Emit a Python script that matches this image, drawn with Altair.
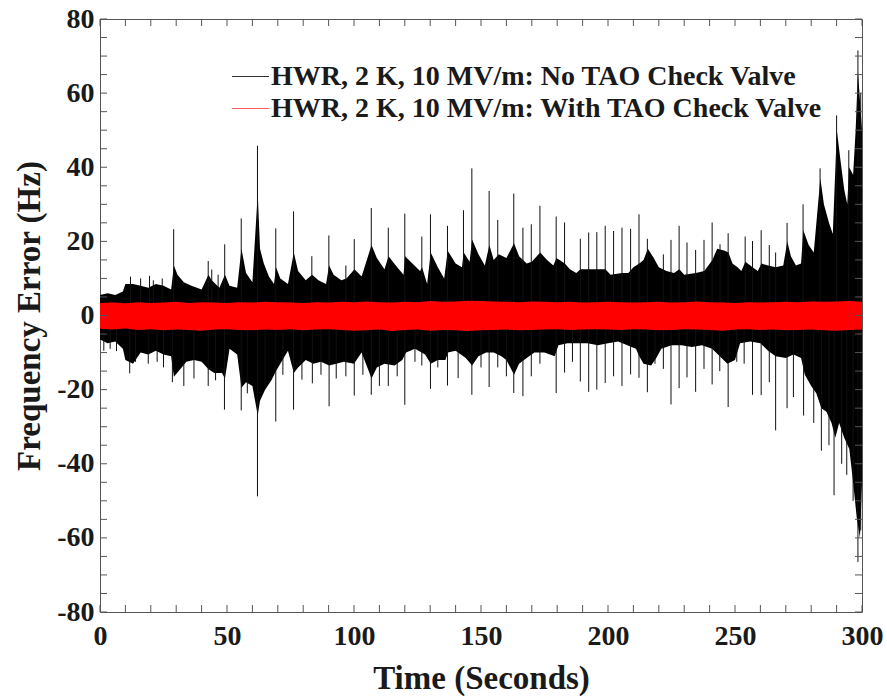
import altair as alt
import pandas as pd

FONT = "Liberation Serif"
TXT = "#1a1a1a"

# ---------------- data ----------------
series_names = ["HWR, 2 K, 10 MV/m: No TAO Check Valve",
                "HWR, 2 K, 10 MV/m: With TAO Check Valve"]

# dense upper envelope of the black (no check valve) trace
up_t = [0, 3, 6, 9, 10, 13, 16, 19, 22, 25, 28, 29.1, 30.5, 33, 36, 40, 42.7, 44, 47, 49.2,
        51, 54, 55.7, 57.5, 60, 62.1, 63, 64.5, 66.5, 68.5, 69.3, 71, 74, 76.3, 78, 81, 83.5,
        86, 89, 90.2, 92, 95, 97, 100.2, 103, 106.9, 109, 112, 113.6, 117, 119.5, 120.1, 123,
        126, 126.8, 128.8, 130.2, 133, 135.5, 136.9, 140, 142.5, 143.2, 145.5, 146.5, 149,
        151.5, 153.3, 155, 157, 160, 163, 165, 168, 170, 173.3, 176, 178.5, 179.7, 183, 185,
        187.5, 189.2, 192.5, 195.7, 199, 201, 205.6, 208, 210, 212.3, 214, 215.7, 218, 220,
        223, 226, 228.1, 230, 234.6, 237.9, 241.1, 243, 246, 247.4, 249, 251, 252.5, 254.1,
        256.9, 259, 260.4, 263, 266, 269, 270.6, 272, 274, 276, 276.9, 279, 281, 283.6, 285,
        287, 288.5, 290.1, 291.5, 293, 294.2, 294.9, 296.5, 297.5, 298.4, 299.2, 300]
up_v = [5.5, 6.0, 5.5, 6.5, 8.5, 8.5, 8.0, 7.5, 8.5, 8.0, 7.0, 13.5, 11.0, 9.0, 8.0, 7.0, 11.0, 9.5, 7.5, 11.0,
        8.0, 7.5, 18.0, 11.5, 9.0, 33.0, 18.0, 14.0, 10.5, 8.5, 13.0, 10.0, 8.5, 17.0, 12.0, 9.5, 11.0,
        9.5, 8.5, 13.5, 11.0, 9.5, 10.0, 12.5, 10.5, 19.0, 15.5, 12.5, 16.0, 13.0, 11.0, 16.0, 14.0,
        12.0, 13.0, 8.5, 17.0, 13.0, 10.0, 17.5, 14.0, 13.0, 17.0, 14.5, 20.5, 16.5,
        13.5, 19.0, 15.0, 16.5, 15.5, 19.5, 16.0, 14.0, 14.5, 17.0, 15.0, 13.5, 15.5, 14.0, 12.5,
        11.5, 12.5, 12.5, 12.5, 12.5, 11.0, 11.5, 11.5, 13.0, 14.0, 15.0, 18.0, 15.5, 13.0,
        12.0, 11.5, 12.5, 11.0, 11.5, 12.0, 15.0, 18.0, 17.5, 17.0, 14.0, 13.0, 12.0, 14.5,
        13.0, 12.0, 14.0, 13.5, 13.0, 13.5, 20.0, 16.0, 13.5, 14.0, 23.0, 19.0, 17.0, 37.0, 30.0,
        25.0, 22.0, 50.0, 42.0, 34.0, 30.0, 40.0, 38.0, 50.0, 66.0, 58.0, 50.0]

# dense lower envelope of the black trace
lo_t = [0, 3, 6, 9, 10, 13, 16, 19, 22, 25, 28, 29.1, 31, 34, 37, 40, 42.7, 45, 48, 49.2,
        51, 54, 55.7, 57.5, 60, 62.1, 63, 65, 67.5, 69.3, 71, 74, 76.3, 78, 81, 84, 87, 90.2,
        93, 96, 100, 103, 106.9, 109, 112, 116, 119, 120.5, 124, 128, 130.2, 133, 136, 137,
        140, 144, 146.5, 149, 152, 155, 158, 160, 163, 165, 168, 171, 175, 179, 180.5, 184,
        188, 192, 196, 200, 204, 207.6, 211, 212.3, 214, 217, 219, 221, 225, 229, 233, 237,
        241, 244, 247, 250, 252, 256, 260, 263, 266, 270, 273, 276, 277.5, 280, 282, 284,
        286, 288, 289.5, 291, 293, 295, 296.5, 298, 299.2, 300]
lo_v = [-6.5, -7.5, -7.0, -9.0, -12.0, -13.0, -10.0, -10.5, -9.5, -10.5, -11.0, -16.5, -15.0, -12.5, -12.0, -12.5, -14.5, -15.5, -15.5, -17.0,
        -9.0, -10.5, -19.5, -18.0, -19.0, -27.0, -23.0, -20.0, -17.5, -15.0, -13.0, -9.5, -15.5, -14.0, -12.0, -13.0, -12.5, -13.5,
        -13.0, -12.5, -13.0, -10.0, -17.0, -14.0, -13.0, -13.5, -12.0, -10.0, -9.0, -10.5, -13.0, -12.0, -12.0, -10.0,
        -9.5, -11.5, -13.5, -11.0, -10.0, -10.0, -11.0, -12.0, -16.0, -13.0, -11.5, -10.0, -10.0, -11.0, -8.0, -7.5,
        -7.5, -7.5, -8.0, -7.5, -7.0, -8.0, -9.0, -11.0, -13.0, -13.5, -11.5, -9.0, -8.0, -8.0, -8.5, -8.0,
        -9.0, -11.0, -13.0, -12.0, -7.5, -7.0, -7.5, -9.5, -11.0, -11.5, -10.5, -11.5, -16.0, -19.0, -21.0, -25.0,
        -26.0, -29.0, -33.0, -29.0, -33.0, -36.0, -45.0, -55.0, -60.0, -45.0]

# isolated upward spikes of the black trace
spike_up_t = [12, 16, 19.5, 21, 24.5, 29.0, 42.6, 44, 46.5, 49.1, 55.6, 62.0, 69.2, 76.2, 83.4, 90.1,
              96.8, 100.1, 106.8, 113.5, 120.0, 126.7, 130.1, 136.8, 143.1, 146.4, 153.2, 156.6,
              162.9, 166.5, 169.8, 173.2, 179.6, 182.9, 189.1, 192.4, 195.6, 198.9, 202.2, 205.5,
              208.9, 212.2, 215.5, 221.8, 224.8, 228.0, 231.1, 234.5, 237.8, 241.0, 244.1, 247.3,
              254.0, 256.9, 260.3, 263.5, 266.0, 270.5, 276.8, 283.5, 290.0, 294.8, 298.4, 299.5]
spike_up_v = [10.5, 10.0, 10.7, 9.5, 10.0, 23.3, 14.7, 12.4, 11.0, 19.2, 26.2, 45.8, 23.5, 28.1, 16.0, 21.6,
              13.5, 20.6, 29.0, 23.7, 27.5, 21.3, 27.3, 24.2, 28.4, 39.7, 33.6, 25.8,
              32.9, 23.7, 24.6, 29.6, 26.7, 25.1, 20.7, 22.4, 22.5, 24.2, 22.8, 23.7,
              23.4, 27.3, 20.7, 16.5, 20.4, 24.2, 19.7, 17.7, 20.4, 25.1, 19.2, 22.2,
              21.3, 20.1, 23.0, 19.0, 17.0, 25.0, 30.0, 39.7, 54.0, 44.6, 71.5, 60.0]

# isolated downward spikes of the black trace
spike_lo_t = [1.5, 4, 6.5, 11.7, 14, 19, 22.5, 25, 28.5, 33, 37, 42.6, 45.5, 49.0, 55.6, 58, 62.0,
              65, 69.2, 72, 76.2, 79.5, 83.6, 87, 90.2, 93, 96.8, 100.1, 103.5, 106.8, 110, 113.5,
              117, 120, 124, 126.7, 130.1, 133, 136.8, 141, 146.4, 150, 153.2, 156.6, 160, 162.9,
              166.5, 169.8, 173.2, 179.6, 182.9, 186, 189.1, 192.4, 195.6, 198.9, 202.2, 205.5,
              208.9, 212.2, 215.5, 218.5, 221.8, 224.8, 228.0, 231.1, 234.5, 237.8, 241.0, 244,
              247.3, 250.7, 253.6, 256.9, 260.3, 263.5, 266.0, 270.5, 273, 277, 281, 284.0, 287,
              289.0, 292, 294, 296.5, 298.4, 299.5]
spike_lo_v = [-9.5, -9.0, -9.6, -15.6, -12.5, -13.0, -12.5, -14.0, -18.0, -19.0, -17.0, -19.0, -17.5, -25.4, -25.6, -21.0, -48.8,
              -19.4, -28.6, -16.0, -25.4, -17.3, -18.3, -16.0, -24.5, -17.0, -16.4, -21.6, -16.0, -21.4, -19.0, -19.0,
              -16.4, -24.1, -12.5, -13.5, -19.8, -14.0, -18.9, -16.9, -21.4, -14.0, -19.3, -14.0, -16.4, -20.9,
              -21.8, -16.4, -13.0, -20.9, -15.4, -12.5, -17.8, -20.6, -20.0, -18.2, -16.4, -19.0,
              -15.9, -16.8, -20.7, -13.0, -14.4, -24.0, -19.6, -16.7, -20.6, -14.4, -18.6, -15.0,
              -24.7, -12.5, -13.0, -21.4, -21.5, -18.0, -31.0, -25.0, -22.0, -27.0, -29.0, -36.5, -35.0,
              -48.5, -40.0, -43.0, -50.0, -66.5, -58.0]

# red trace (with check valve): band edges every 5 s
red_t = list(range(0, 301, 5))
red_up = [3.4, 3.5, 3.3, 3.6, 3.4, 3.5, 3.7, 3.4, 3.6, 3.5, 3.4, 3.6, 3.5, 3.7, 3.6, 3.5, 3.4, 3.6, 3.5, 3.7,
          3.6, 3.8, 3.6, 3.5, 3.7, 3.6, 3.9, 3.7, 3.8, 4.0, 3.9, 3.8, 3.7, 3.6, 3.8, 3.7, 3.6, 3.7, 3.5, 3.6,
          3.7, 3.6, 3.5, 3.6, 3.7, 3.5, 3.6, 3.8, 3.6, 3.5, 3.4, 3.6, 3.5, 3.6, 3.7, 3.6, 3.8, 3.7, 3.8, 3.9, 3.7]
red_lo = [-3.6, -3.8, -3.5, -3.9, -3.7, -4.0, -3.8, -3.9, -4.1, -3.8, -3.7, -3.9, -4.0, -3.8, -3.9, -3.7, -4.0, -3.8, -3.7, -3.9,
          -4.1, -4.0, -3.8, -4.2, -3.9, -3.8, -4.1, -3.9, -4.0, -4.2, -4.0, -3.9, -3.8, -4.0, -3.9, -3.8, -3.7, -3.9, -3.8, -3.7,
          -3.8, -3.9, -3.7, -3.8, -4.0, -3.9, -3.7, -3.8, -3.9, -4.1, -3.8, -3.7, -3.9, -3.8, -4.0, -3.9, -3.8, -4.0, -4.1, -3.9, -3.8]

x_ticks_major = [0, 50, 100, 150, 200, 250, 300]
x_ticks_minor = list(range(0, 301, 10))
y_ticks_major = list(range(-80, 81, 20))
y_ticks_minor = list(range(-80, 81, 5))

# ---------------- chart ----------------
W, H = 762, 593
xs = alt.Scale(domain=[0, 300], nice=False, zero=False)
ys = alt.Scale(domain=[-80, 80], nice=False, zero=False)

x_axis = alt.Axis(values=x_ticks_major, title="Time (Seconds)", ticks=False, domain=False, grid=False,
                  labelFont=FONT, labelFontWeight="bold", labelFontSize=28, labelColor=TXT, labelPadding=10,
                  labelFlush=False, titleFont=FONT, titleFontWeight="bold", titleFontSize=33,
                  titleColor=TXT, titlePadding=12)
y_axis = alt.Axis(values=y_ticks_major, title="Frequency Error (Hz)", ticks=False, domain=False, grid=False,
                  labelFont=FONT, labelFontWeight="bold", labelFontSize=28, labelColor=TXT, labelPadding=6,
                  labelExpr="toString(datum.value)", labelFlush=False,
                  titleFont=FONT, titleFontWeight="bold", titleFontSize=33, titleColor=TXT, titlePadding=10)

X = alt.X("t:Q", scale=xs, axis=x_axis)
Y = alt.Y("v:Q", scale=ys, axis=y_axis)

up_df = pd.DataFrame({"t": up_t, "v": up_v})
lo_df = pd.DataFrame({"t": lo_t, "v": lo_v})
su_df = pd.DataFrame({"t": spike_up_t, "v": spike_up_v})
sl_df = pd.DataFrame({"t": spike_lo_t, "v": spike_lo_v})
red_df = pd.DataFrame({"t": red_t, "v": red_up, "v2": red_lo})

black_up = alt.Chart(up_df).mark_area(color="black", interpolate="linear").encode(x=X, y=Y, y2=alt.datum(0))
black_lo = alt.Chart(lo_df).mark_area(color="black", interpolate="linear").encode(x=X, y=Y, y2=alt.datum(0))
spikes_up = alt.Chart(su_df).mark_rule(color="#111111", strokeWidth=1).encode(x=X, y=Y, y2=alt.datum(0))
spikes_lo = alt.Chart(sl_df).mark_rule(color="#111111", strokeWidth=1).encode(x=X, y=Y, y2=alt.datum(0))
red = alt.Chart(red_df).mark_area(color="#ff0000", interpolate="linear").encode(x=X, y=Y, y2="v2:Q")

TICK = "#555555"
TL = 7
xt_df = pd.DataFrame({"t": x_ticks_minor})
yt_df = pd.DataFrame({"v": y_ticks_minor})
xt_bot = alt.Chart(xt_df).mark_rule(color=TICK, strokeWidth=1).encode(x=X, y=alt.value(H), y2=alt.value(H - TL))
xt_top = alt.Chart(xt_df).mark_rule(color=TICK, strokeWidth=1).encode(x=X, y=alt.value(0), y2=alt.value(TL))
yt_left = alt.Chart(yt_df).mark_rule(color=TICK, strokeWidth=1).encode(y=Y, x=alt.value(0), x2=alt.value(TL))
yt_right = alt.Chart(yt_df).mark_rule(color=TICK, strokeWidth=1).encode(y=Y, x=alt.value(W), x2=alt.value(W - TL))

# legend (manual, inside the axes, no box)
leg_rows = []
for i, (name, col) in enumerate(zip(series_names, ["black", "#ff3333"])):
    yy = 57.5 + i * 32
    ldf = pd.DataFrame({"label": [name]})
    leg_rows.append(alt.Chart(ldf).mark_rule(color=col, strokeWidth=0.8).encode(
        x=alt.value(132), x2=alt.value(169), y=alt.value(yy)))
    leg_rows.append(alt.Chart(ldf).mark_text(font=FONT, fontWeight="bold", fontSize=28, color=TXT,
                                             align="left", baseline="middle").encode(
        x=alt.value(171), y=alt.value(yy), text="label:N"))

chart = alt.layer(black_up, black_lo, spikes_up, spikes_lo, red,
                  xt_bot, xt_top, yt_left, yt_right, *leg_rows).properties(
    width=W, height=H,
    autosize=alt.AutoSizeParams(type="none"),
    padding={"left": 100, "top": 19, "right": 25, "bottom": 84},
    background="white",
).configure_view(stroke="#555555", strokeWidth=1)

chart.save("out.html", embed_options={"renderer": "svg", "actions": False})
